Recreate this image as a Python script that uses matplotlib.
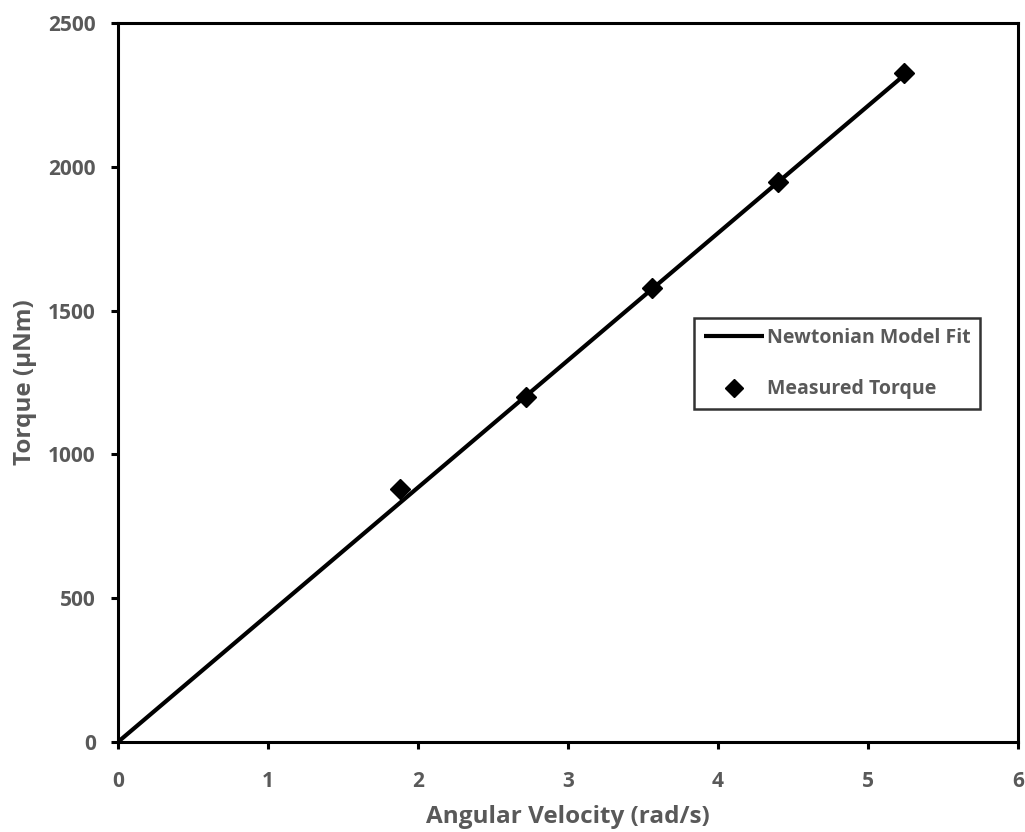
import matplotlib.pyplot as plt

# measured torque vs angular velocity
omega = [1.88, 2.72, 3.56, 4.40, 5.24]
torque = [878, 1198, 1577, 1948, 2327]

# newtonian model fit line
fit_omega = [0, 5.24]
fit_torque = [0, 2318]

xticks = [0, 1, 2, 3, 4, 5, 6]
yticks = [0, 500, 1000, 1500, 2000, 2500]

GRAY = "#595959"
plt.rcParams["font.family"] = ["Open Sans", "DejaVu Sans"]
plt.rcParams["font.weight"] = "bold"

fig = plt.figure(figsize=(10.25, 8.32), dpi=100)
ax = fig.add_axes([0.1151, 0.1082, 0.8781, 0.8642])

ax.plot(fit_omega, fit_torque, color="black", lw=3, label="Newtonian Model Fit",
        solid_capstyle="butt")
ax.plot(omega, torque, linestyle="none", marker="D", ms=10.5, color="black",
        label="Measured Torque")

ax.set_xlim(0, 6)
ax.set_ylim(0, 2500)
ax.set_xticks(xticks)
ax.set_yticks(yticks)

for s in ax.spines.values():
    s.set_linewidth(2.2)
    s.set_color("black")

ax.tick_params(axis="both", direction="out", length=5, width=2.2, color="black",
               labelsize=15, labelcolor=GRAY)
ax.tick_params(axis="x", pad=16)
ax.tick_params(axis="y", pad=11)
for lab in ax.get_xticklabels() + ax.get_yticklabels():
    lab.set_fontweight("bold")

ax.set_xlabel("Angular Velocity (rad/s)", fontsize=17.5, fontweight="bold",
              color=GRAY, labelpad=9)
ax.set_ylabel("Torque (\u00b5Nm)", fontsize=17.5, fontweight="bold",
              color=GRAY, labelpad=8)

leg = ax.legend(loc="upper left", bbox_to_anchor=(0.64, 0.589), frameon=True,
                fancybox=False, edgecolor="black", fontsize=14,
                borderpad=0.5, labelspacing=1.6, handlelength=3.1,
                handletextpad=0.15, borderaxespad=0, markerscale=0.85)
leg.get_frame().set_linewidth(1.8)
for t in leg.get_texts():
    t.set_color(GRAY)
    t.set_fontweight("bold")

fig.savefig("out.png", dpi=100)
